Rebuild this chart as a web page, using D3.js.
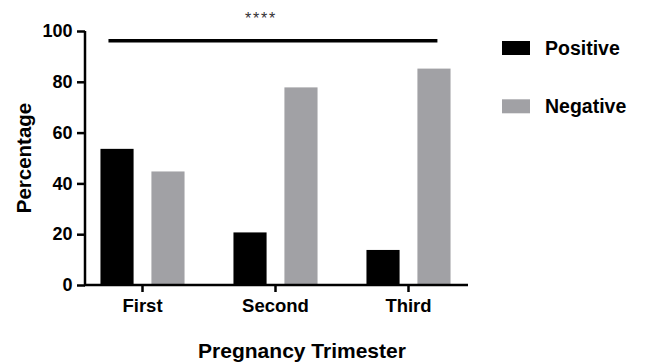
<!DOCTYPE html>
<html>
<head>
<meta charset="utf-8">
<script src="https://cdn.jsdelivr.net/npm/d3@7"></script>
<style>
  body { margin: 0; background: #fff; }
  text { font-family: "Liberation Sans", Arial, sans-serif; }
</style>
</head>
<body>
<div id="chart-area"></div>
<script>
    var categories = ["First", "Second", "Third"];
    var seriesNames = ["Positive", "Negative"];
    var positive = [53.6, 20.7, 13.8];
    var negative = [44.7, 77.8, 85.2];
    var yTicks = [0, 20, 40, 60, 80, 100];
    var colors = {Positive: "#000000", Negative: "#a1a1a5"};

    var svg = d3.select("#chart-area").append("svg")
        .attr("width", 645)
        .attr("height", 364);

    var x = d3.scaleBand()
        .domain(categories)
        .range([76, 475]);

    var xs = d3.scaleBand()
        .domain(seriesNames)
        .range([0, x.bandwidth()])
        .paddingInner(0.35)
        .paddingOuter(0.48);

    var y = d3.scaleLinear()
        .domain([0, 100])
        .range([285, 31]);

    var data = categories.map(function(c, i) {
        return {cat: c, values: [
            {name: "Positive", value: positive[i]},
            {name: "Negative", value: negative[i]}
        ]};
    });

    // bars
    var groups = svg.selectAll(".grp").data(data).enter().append("g")
        .attr("transform", function(d) { return "translate(" + x(d.cat) + ",0)"; });

    groups.selectAll("rect").data(function(d) { return d.values; }).enter().append("rect")
        .attr("x", function(d) { return xs(d.name); })
        .attr("width", xs.bandwidth())
        .attr("y", function(d) { return y(d.value); })
        .attr("height", function(d) { return y(0) - y(d.value); })
        .attr("fill", function(d) { return colors[d.name]; });

    // y axis
    var yAxis = svg.append("g")
        .attr("transform", "translate(85,0)")
        .call(d3.axisLeft(y).tickValues(yTicks).tickSize(8).tickPadding(4.5));
    yAxis.select(".domain").attr("stroke-width", 2.5).attr("d", "M0," + (y(0) + 1) + "V" + y(100));
    yAxis.selectAll(".tick line").attr("stroke-width", 2.5);
    yAxis.selectAll(".tick text")
        .attr("font-size", 18).attr("font-weight", "bold").attr("fill", "#000")
        .style("font-family", "'Liberation Sans', Arial, sans-serif");

    // x axis
    var xAxis = svg.append("g")
        .attr("transform", "translate(0," + y(0) + ")")
        .call(d3.axisBottom(x).tickSize(7).tickPadding(6.5));
    xAxis.select(".domain").attr("stroke-width", 2.5).attr("d", "M84,0H468");
    xAxis.selectAll(".tick line").attr("stroke-width", 2.5);
    xAxis.selectAll(".tick text")
        .attr("font-size", 18.5).attr("font-weight", "bold").attr("fill", "#000")
        .style("font-family", "'Liberation Sans', Arial, sans-serif");

    // significance bar
    var sigY = 96.2;
    svg.append("line")
        .attr("x1", x("First") + xs("Positive") + 8)
        .attr("x2", x("Third") + xs("Negative") + 20)
        .attr("y1", y(sigY))
        .attr("y2", y(sigY))
        .attr("stroke", "#000")
        .attr("stroke-width", 3.5);

    svg.append("text")
        .attr("x", 261)
        .attr("y", 24)
        .attr("text-anchor", "middle")
        .attr("font-size", 16)
        .attr("letter-spacing", 1.8)
        .attr("fill", "#333")
        .text("****");

    // axis titles
    svg.append("text")
        .attr("transform", "translate(31,158) rotate(-90)")
        .attr("text-anchor", "middle")
        .attr("font-size", 20.5)
        .attr("font-weight", "bold")
        .attr("fill", "#000")
        .text("Percentage");

    svg.append("text")
        .attr("x", 302)
        .attr("y", 358)
        .attr("text-anchor", "middle")
        .attr("font-size", 21)
        .attr("font-weight", "bold")
        .attr("fill", "#000")
        .text("Pregnancy Trimester");

    // legend
    var legend = svg.selectAll(".legend").data(seriesNames).enter().append("g")
        .attr("transform", function(d, i) { return "translate(502," + (41 + i * 58.3) + ")"; });
    legend.append("rect")
        .attr("width", 28).attr("height", 14)
        .attr("fill", function(d) { return colors[d]; });
    legend.append("text")
        .attr("x", 43).attr("y", 13.5)
        .attr("font-size", 19.5).attr("font-weight", "bold")
        .attr("fill", "#000")
        .text(function(d) { return d; });
</script>
</body>
</html>
